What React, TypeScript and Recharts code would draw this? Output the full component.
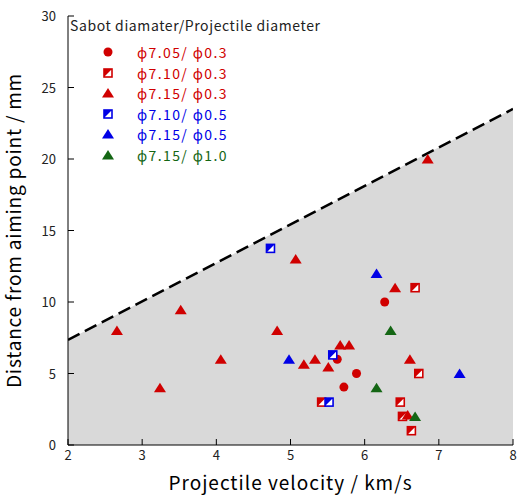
import { ComposedChart, Area, Scatter, XAxis, YAxis, Legend } from 'recharts'

// shaded region below the dashed boundary
const boundaryV = [2, 8]
const boundaryD = [7.35, 23.5]

const xTicks = [2, 3, 4, 5, 6, 7, 8]
const yTicks = [0, 5, 10, 15, 20, 25, 30]

// phi7.05 / phi0.3  (red circles)
const s1V = [6.27, 5.63, 5.89, 5.72]
const s1D = [10, 6.0, 5.0, 4.05]
// phi7.10 / phi0.3  (red half squares)
const s2V = [6.68, 6.73, 5.42, 6.48, 6.51, 6.63]
const s2D = [11, 5, 3, 3, 2, 1]
// phi7.15 / phi0.3  (red triangles)
const s3V = [6.85, 5.07, 6.41, 5.67, 5.79, 5.33, 5.18, 5.51, 6.61, 6.58, 3.52, 2.66, 4.82, 4.06, 3.24]
const s3D = [20, 13, 11, 7, 7, 6, 5.65, 5.45, 6, 2.1, 9.45, 8, 8, 6, 4]
// phi7.10 / phi0.5  (blue half squares)
const s4V = [4.73, 5.57, 5.52]
const s4D = [13.75, 6.3, 3]
// phi7.15 / phi0.5  (blue triangles)
const s5V = [6.16, 4.98, 7.28]
const s5D = [12, 6, 5]
// phi7.15 / phi1.0  (green triangles)
const s6V = [6.35, 6.16, 6.68]
const s6D = [8, 4, 2]

const RED = '#d00000'
const BLUE = '#0000e6'
const GREEN = '#146614'
const FONT = '"Noto Sans CJK JP", "Noto Sans", sans-serif'

const toPts = (v: number[], d: number[]) => v.map((x, i) => ({ x, y: d[i] }))

const boundary = toPts(boundaryV, boundaryD)

function marker(kind: string, color: string, cx: number, cy: number) {
  if (kind === 'circle') return <circle cx={cx} cy={cy} r={4.5} fill={color} />
  if (kind === 'triangle')
    return <polygon points={`${cx},${cy - 5} ${cx - 6},${cy + 4.5} ${cx + 6},${cy + 4.5}`} fill={color} />
  // half filled square
  return (
    <g>
      <rect x={cx - 4} y={cy - 4} width={8} height={8} fill="#fff" stroke={color} strokeWidth={1.6} />
      <polygon points={`${cx - 4},${cy - 4} ${cx + 4},${cy - 4} ${cx - 4},${cy + 4}`} fill={color} />
    </g>
  )
}

const series = [
  { name: 'ϕ7.05/ ϕ0.3', kind: 'circle', color: RED, data: toPts(s1V, s1D) },
  { name: 'ϕ7.10/ ϕ0.3', kind: 'half', color: RED, data: toPts(s2V, s2D) },
  { name: 'ϕ7.15/ ϕ0.3', kind: 'triangle', color: RED, data: toPts(s3V, s3D) },
  { name: 'ϕ7.10/ ϕ0.5', kind: 'half', color: BLUE, data: toPts(s4V, s4D) },
  { name: 'ϕ7.15/ ϕ0.5', kind: 'triangle', color: BLUE, data: toPts(s5V, s5D) },
  { name: 'ϕ7.15/ ϕ1.0', kind: 'triangle', color: GREEN, data: toPts(s6V, s6D) },
]

const TICK_LEN = 6
const X_GAP = 10
const Y_GAP = 12

const BottomTick = (p: any) => {
  const ay = p.y - X_GAP
  return (
    <g>
      <line x1={p.x} x2={p.x} y1={ay} y2={ay - TICK_LEN} stroke="#000" />
      <text x={p.x} y={p.y} dy={5} textAnchor="middle" fontSize={13} fill="#222" fontFamily={FONT}>
        {p.payload.value}
      </text>
    </g>
  )
}

const LeftTick = (p: any) => {
  const ax = p.x + Y_GAP
  return (
    <g>
      <line x1={ax} x2={ax + TICK_LEN} y1={p.y} y2={p.y} stroke="#000" />
      <text x={p.x} y={p.y} dy={5} textAnchor="end" fontSize={13} fill="#222" fontFamily={FONT}>
        {p.payload.value}
      </text>
    </g>
  )
}

const TopTick = (p: any) => <line x1={p.x} x2={p.x} y1={p.y} y2={p.y + TICK_LEN} stroke="#000" />
const RightTick = (p: any) => <line x1={p.x} x2={p.x - TICK_LEN} y1={p.y} y2={p.y} stroke="#000" />

function LegendBox() {
  return (
    <div style={{ fontFamily: FONT, whiteSpace: 'nowrap' }}>
      <div style={{ height: 18, lineHeight: '18px', fontSize: 14, color: '#222', letterSpacing: 0.6 }}>
        Sabot diamater/Projectile diameter
      </div>
      <div style={{ marginTop: 8 }}>
        {series.map((s) => (
          <div key={s.name} style={{ position: 'relative', height: 20.5 }}>
            <svg width={14} height={14} style={{ position: 'absolute', left: 31, top: 3 }}>
              {marker(s.kind, s.color, 7, 7)}
            </svg>
            <span
              style={{
                position: 'absolute',
                left: 67,
                top: 0,
                lineHeight: '20px',
                fontSize: 14,
                letterSpacing: 1.4,
                color: s.color,
              }}
            >
              {s.name}
            </span>
          </div>
        ))}
      </div>
    </div>
  )
}

export default function App() {
  return (
    <div style={{ position: 'absolute', left: 0, top: 0 }}>
      <ComposedChart width={517} height={495} data={boundary} margin={{ top: 16, right: 4, bottom: 0, left: 0 }}>
        <XAxis
          dataKey="x"
          type="number"
          domain={[2, 8]}
          ticks={xTicks}
          allowDataOverflow
          height={50}
          tickSize={0}
          tickMargin={X_GAP}
          tickLine={false}
          axisLine={{ stroke: '#000' }}
          tick={<BottomTick />}
          label={{
            value: 'Projectile velocity / km/s',
            position: 'insideBottom',
            offset: 5,
            fontSize: 19,
            letterSpacing: 1,
            fill: '#000',
            fontFamily: FONT,
          }}
        />
        <XAxis
          xAxisId="top"
          orientation="top"
          type="number"
          domain={[2, 8]}
          ticks={xTicks}
          allowDataOverflow
          height={0}
          tickSize={0}
          tickMargin={0}
          tickLine={false}
          axisLine={{ stroke: '#000' }}
          tick={<TopTick />}
        />
        <YAxis
          dataKey="y"
          type="number"
          domain={[0, 30]}
          ticks={yTicks}
          allowDataOverflow
          width={68}
          tickSize={0}
          tickMargin={Y_GAP}
          tickLine={false}
          axisLine={{ stroke: '#000' }}
          tick={<LeftTick />}
          label={{
            value: 'Distance from aiming point / mm',
            angle: -90,
            position: 'insideLeft',
            offset: 14,
            fontSize: 19,
            letterSpacing: 0.8,
            fill: '#000',
            fontFamily: FONT,
            style: { textAnchor: 'middle' },
          }}
        />
        <YAxis
          yAxisId="right"
          orientation="right"
          type="number"
          domain={[0, 30]}
          ticks={yTicks}
          allowDataOverflow
          width={0}
          tickSize={0}
          tickMargin={0}
          tickLine={false}
          axisLine={{ stroke: '#000' }}
          tick={<RightTick />}
        />
        <Area
          type="linear"
          dataKey="y"
          stroke="#000"
          strokeWidth={2.5}
          strokeDasharray="13 6"
          fill="#d9d9d9"
          fillOpacity={1}
          isAnimationActive={false}
          dot={false}
          activeDot={false}
        />
        {series.map((s) => (
          <Scatter
            key={s.name}
            name={s.name}
            data={s.data}
            isAnimationActive={false}
            shape={(p: any) => marker(s.kind, s.color, p.cx, p.cy)}
          />
        ))}
        <Legend
          layout="vertical"
          align="center"
          verticalAlign="middle"
          wrapperStyle={{ left: 70, top: 16, width: 'auto' }}
          content={() => <LegendBox />}
        />
      </ComposedChart>
    </div>
  )
}
